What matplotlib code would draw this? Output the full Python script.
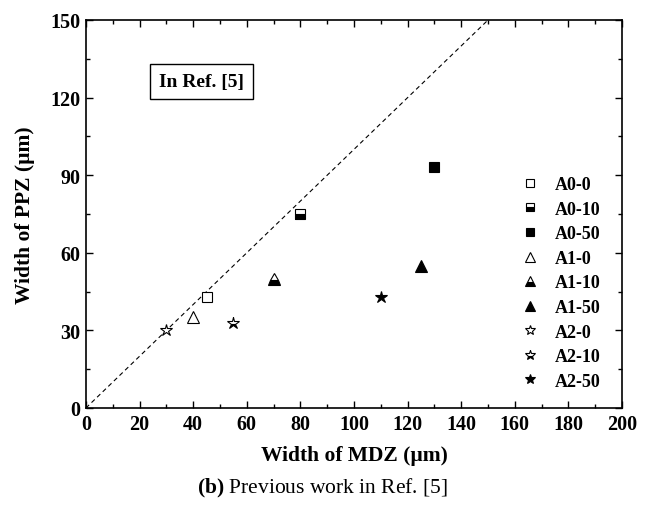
import matplotlib
matplotlib.use("Agg")
import matplotlib.pyplot as plt
from matplotlib.ticker import MultipleLocator

plt.rcParams['font.family'] = ['Liberation Serif', 'DejaVu Serif']
plt.rcParams['mathtext.fontset'] = 'custom'
plt.rcParams['mathtext.rm'] = 'Liberation Serif'
plt.rcParams['mathtext.bf'] = 'Liberation Serif:bold'

labels = ['A0-0', 'A0-10', 'A0-50', 'A1-0', 'A1-10', 'A1-50', 'A2-0', 'A2-10', 'A2-50']
mdz = [45, 80, 130, 40, 70, 125, 30, 55, 110]
ppz = [43, 75, 93, 35, 50, 55, 30, 33, 43]
markers = ['s', 's', 's', '^', '^', '^', '*', '*', '*']
fills = ['none', 'bottom', 'full'] * 3

fig = plt.figure(figsize=(6.46, 5.06), dpi=100)
ax = fig.add_axes([0.133, 0.1917, 0.830, 0.7668])

ax.plot([0, 150], [0, 150], ls=(0, (4, 3)), color='black', lw=0.8)

sizes = {'s': 7.5, '^': 9, '*': 9}
for lab, x, y, m, f in zip(labels, mdz, ppz, markers, fills):
    size = sizes[m]
    if f == 'none':
        ax.plot([x], [y], ls='none', marker=m, ms=size, mfc='white', mec='black', mew=0.8, label=lab)
    else:
        ax.plot([x], [y], ls='none', marker=m, ms=size, fillstyle=f, mfc='black',
                mfcalt='white', mec='black', mew=0.8, label=lab)

ax.set_xlim(0, 200)
ax.set_ylim(0, 150)
ax.xaxis.set_major_locator(MultipleLocator(20))
ax.xaxis.set_minor_locator(MultipleLocator(10))
ax.yaxis.set_major_locator(MultipleLocator(30))
ax.yaxis.set_minor_locator(MultipleLocator(15))
ax.tick_params(which='both', direction='in', top=True, right=True, width=1.0)
ax.tick_params(which='major', length=5, labelsize=14.5, pad=4)
ax.tick_params(which='minor', length=3)
for lbl in ax.get_xticklabels() + ax.get_yticklabels():
    lbl.set_fontweight('bold')
for s in ax.spines.values():
    s.set_linewidth(1.2)

ax.set_xlabel('Width of MDZ (µm)', fontsize=15.5, fontweight='bold', labelpad=8)
ax.set_ylabel('Width of PPZ (µm)', fontsize=15.5, fontweight='bold', labelpad=11)

ax.text(0.136, 0.83, 'In Ref. [5]', transform=ax.transAxes, fontsize=14, fontweight='bold',
        bbox=dict(boxstyle='square,pad=0.45', fc='white', ec='black', lw=1.0))

leg = ax.legend(loc='lower right', bbox_to_anchor=(0.99, 0.005), frameon=False,
                prop={'weight': 'bold', 'size': 13}, handlelength=0.9, handletextpad=0.9,
                labelspacing=0.42, numpoints=1, markerscale=0.85)

fig.text(0.5, 0.025, r'$\mathbf{(b)}$ Previous work in Ref. [5]', ha='center', fontsize=15.5)

fig.savefig('out.png', dpi=100)
